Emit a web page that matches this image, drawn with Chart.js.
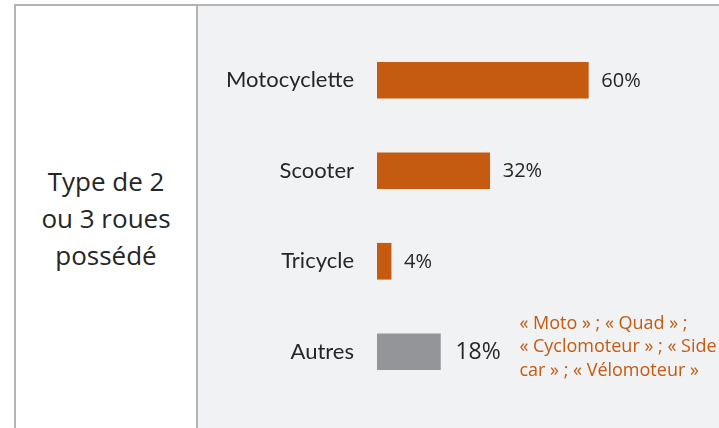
<!DOCTYPE html>
<html lang="fr">
<head>
<meta charset="utf-8">
<title>Type de 2 ou 3 roues possédé</title>
<script src="https://cdn.jsdelivr.net/npm/chart.js@4.4.1/dist/chart.umd.min.js"></script>
<style>
    html, body { margin: 0; padding: 0; background: #ffffff; }
    #cadre { position: relative; width: 719px; height: 428px; overflow: hidden; }
    .bord { position: absolute; left: 14px; top: 4px; right: 0; bottom: 0;
            border-top: 2px solid #b4b4b4; border-left: 2px solid #b4b4b4; }
    .separateur { position: absolute; left: 196px; top: 4px; width: 2px; bottom: 0; background: #b4b4b4; }
    .panneau { position: absolute; left: 198px; top: 6px; right: 0; bottom: 0; background: #f1f2f4; }
    .titre { position: absolute; left: 16px; width: 180px; top: 163px; text-align: center;
             font-family: "Open Sans", sans-serif; font-size: 26px; line-height: 37px; color: #262626; }
    canvas { position: absolute; left: 0; top: 0; }
</style>
</head>
<body>
<div id="cadre">
    <div class="bord"></div>
    <div class="panneau"></div>
    <div class="separateur"></div>
    <div class="titre">Type de 2<br>ou 3 roues<br>possédé</div>
    <canvas id="graficoRoues" width="719" height="428"></canvas>
</div>
<script>
const categories = ['Motocyclette', 'Scooter', 'Tricycle', 'Autres'];
const valeurs = [60, 32, 4, 18];
const couleurs = ['#c55a11', '#c55a11', '#c55a11', '#939598'];
const noteAutres = ['« Moto » ; « Quad » ;', '« Cyclomoteur » ; « Side', 'car » ; « Vélomoteur »'];

// etiquettes de valeur + note à droite de la barre "Autres"
const etiquettes = {
    id: 'etiquettes',
    afterDatasetsDraw(chart) {
        const ctx = chart.ctx;
        const meta = chart.getDatasetMeta(0);
        ctx.save();
        ctx.textAlign = 'left';
        meta.data.forEach((barre, i) => {
            ctx.textBaseline = 'middle';
            ctx.fillStyle = '#262626';
            if (categories[i] === 'Autres') {
                ctx.font = '23px "Open Sans"';
                ctx.fillText(valeurs[i] + '%', barre.x + 15, barre.y + 1);
                ctx.font = '18px "Open Sans"';
                ctx.fillStyle = '#c55a11';
                ctx.textBaseline = 'alphabetic';
                noteAutres.forEach((ligne, j) => {
                    ctx.fillText(ligne, barre.x + 79, barre.y - 23 + j * 23.5);
                });
            } else {
                ctx.font = '20px "Open Sans"';
                ctx.fillText(valeurs[i] + '%', barre.x + 13, barre.y + 1);
            }
        });
        ctx.restore();
    }
};

const ctxRoues = document.getElementById('graficoRoues').getContext('2d');
const graficoRoues = new Chart(ctxRoues, {
    type: 'bar',
    data: {
        labels: categories,
        datasets: [{
            data: valeurs,
            backgroundColor: couleurs,
            borderWidth: 0,
            barThickness: 36
        }]
    },
    options: {
        indexAxis: 'y',
        responsive: false,
        animation: false,
        layout: { padding: { left: 0, right: 25, top: 35, bottom: 31 } },
        plugins: {
            legend: { display: false },
            tooltip: { enabled: false }
        },
        scales: {
            x: { display: false, min: 0, max: 90 },
            y: {
                grid: { display: false, drawTicks: false },
                border: { display: false },
                ticks: {
                    padding: 23,
                    color: '#262626',
                    font: { family: 'Lato', size: 22 }
                },
                afterFit(axe) {
                    // largeur fixe pour les libellés, sans marge verticale auto
                    axe.width = 377;
                    axe.paddingTop = 0;
                    axe.paddingBottom = 0;
                }
            }
        }
    },
    plugins: [etiquettes]
});
</script>
</body>
</html>
